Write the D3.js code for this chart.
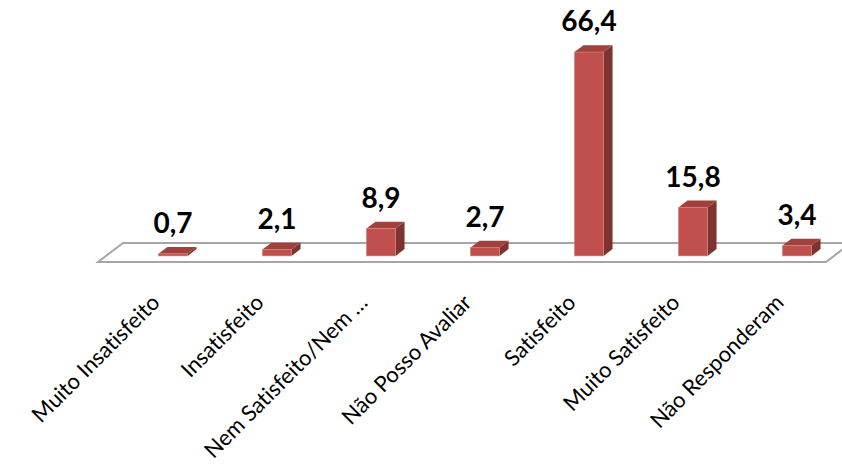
<!DOCTYPE html>
<html>
<head>
    <meta charset="utf-8">
    <style>
        body { margin: 0; background: #fff; }
        .value { font-family: Lato, "Open Sans", sans-serif; font-weight: bold; font-size: 28px; text-anchor: middle; fill: #000; }
        .cat { font-family: Lato, "Open Sans", sans-serif; font-size: 22px; text-anchor: end; fill: #000; font-variant-ligatures: none; }
    </style>
    <script src="https://d3js.org/d3.v7.min.js"></script>
</head>
<body>
    <svg width="842" height="466"></svg>
    <script>
        let categories = ["Muito Insatisfeito", "Insatisfeito", "Nem Satisfeito/Nem \u2026", "N\u00e3o Posso Avaliar", "Satisfeito", "Muito Satisfeito", "N\u00e3o Responderam"];
        let values = [0.7, 2.1, 8.9, 2.7, 66.4, 15.8, 3.4];
        let valueLabels = ["0,7", "2,1", "8,9", "2,7", "66,4", "15,8", "3,4"];

        let svg = d3.select("svg");

        // oblique depth: full floor depth
        let depthX = 25, depthY = 19;
        let floorFront = 262;
        let barZ0 = 0.32, barZ1 = 0.68;
        let barBase = floorFront - depthY * barZ0;
        let bdx = depthX * (barZ1 - barZ0), bdy = depthY * (barZ1 - barZ0);

        let x = d3.scaleBand()
            .domain(categories)
            .range([121, 849])
            .paddingInner(0.72)
            .paddingOuter(0.36);

        let y = d3.scaleLinear()
            .domain([0, 70])
            .range([barBase, barBase - 70 * 3.07]);

        // floor
        let fl = 98, fr = 826;
        svg.append("path")
            .attr("d", "M" + fl + "," + floorFront + " L" + fr + "," + floorFront +
                " L" + (fr + depthX) + "," + (floorFront - depthY) +
                " L" + (fl + depthX) + "," + (floorFront - depthY) + " Z")
            .attr("fill", "#fff")
            .attr("stroke", "#a6a6a6")
            .attr("stroke-width", 2);

        let bars = svg.append("g").selectAll("g")
            .data(categories)
            .join("g");

        // left offset of bar front inside the floor plane
        let shift = depthX * barZ0 - 8;

        bars.append("path")
            .attr("d", (d, i) => {
                let x1 = x(d) + x.bandwidth() + shift, yt = y(values[i]);
                return "M" + x1 + "," + barBase + " L" + (x1 + bdx) + "," + (barBase - bdy) +
                    " L" + (x1 + bdx) + "," + (yt - bdy) + " L" + x1 + "," + yt + " Z";
            })
            .attr("fill", "#7e3331");

        bars.append("path")
            .attr("d", (d, i) => {
                let x0 = x(d) + shift, x1 = x0 + x.bandwidth(), yt = y(values[i]);
                return "M" + x0 + "," + yt + " L" + (x0 + bdx) + "," + (yt - bdy) +
                    " L" + (x1 + bdx) + "," + (yt - bdy) + " L" + x1 + "," + yt + " Z";
            })
            .attr("fill", "#a1413e");

        bars.append("rect")
            .attr("x", d => x(d) + shift)
            .attr("width", x.bandwidth())
            .attr("y", (d, i) => y(values[i]))
            .attr("height", (d, i) => barBase - y(values[i]))
            .attr("fill", "#c0504d")
            .attr("stroke", "#d8827f")
            .attr("stroke-width", 0.6);

        svg.append("g").selectAll("text")
            .data(categories)
            .join("text")
            .attr("class", "value")
            .attr("x", d => x(d) + shift + x.bandwidth() / 2)
            .attr("y", (d, i) => y(values[i]) - bdy - 14)
            .text((d, i) => valueLabels[i]);

        svg.append("g").selectAll("text")
            .data(categories)
            .join("text")
            .attr("class", "cat")
            .attr("transform", d => "translate(" + (x(d) + shift + x.bandwidth() / 2 - 12) + ",304) rotate(-45)")
            .text(d => d);
    </script>
</body>
</html>
